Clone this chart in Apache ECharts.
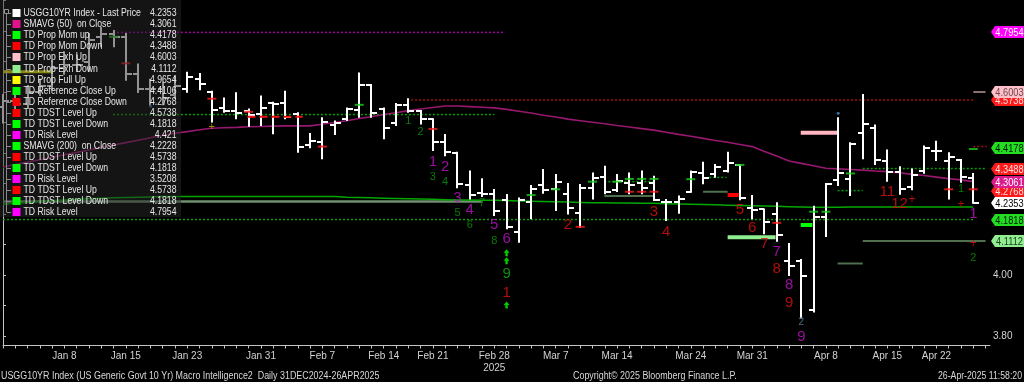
<!DOCTYPE html>
<html><head><meta charset="utf-8">
<script src="https://cdn.jsdelivr.net/npm/echarts@6/dist/echarts.min.js"></script>
<style>html,body{margin:0;padding:0;background:#000;}#c{width:1024px;height:382px;}</style>
</head><body><div id="c"></div>
<script>
// ---------- DATA ----------
const categories = ['Dec 31',
 'Jan 2','Jan 3','Jan 6','Jan 7','Jan 8','Jan 9','Jan 10','Jan 13','Jan 14','Jan 15','Jan 16','Jan 17','Jan 21','Jan 22','Jan 23','Jan 24','Jan 27','Jan 28','Jan 29','Jan 30','Jan 31',
 'Feb 3','Feb 4','Feb 5','Feb 6','Feb 7','Feb 10','Feb 11','Feb 12','Feb 13','Feb 14','Feb 18','Feb 19','Feb 20','Feb 21','Feb 24','Feb 25','Feb 26','Feb 27','Feb 28',
 'Mar 3','Mar 4','Mar 5','Mar 6','Mar 7','Mar 10','Mar 11','Mar 12','Mar 13','Mar 14','Mar 17','Mar 18','Mar 19','Mar 20','Mar 21','Mar 24','Mar 25','Mar 26','Mar 27','Mar 28','Mar 31',
 'Apr 1','Apr 2','Apr 3','Apr 4','Apr 7','Apr 8','Apr 9','Apr 10','Apr 11','Apr 14','Apr 15','Apr 16','Apr 17','Apr 21','Apr 22','Apr 23','Apr 24','Apr 25'];
const xTickLabels = ['Jan 8','Jan 15','Jan 23','Jan 31','Feb 7','Feb 14','Feb 21','Feb 28','Mar 7','Mar 14','Mar 24','Mar 31','Apr 8','Apr 15','Apr 22'];
const yearLabelAt = 'Feb 28';
const yearLabel = '2025';
const yTickLabels = [4.00, 3.80];

const openV  = [4.55,4.57,4.56,4.60,4.62,4.68,4.69,4.70,4.78,4.79,4.78,4.66,4.61,4.61,4.59,4.609,4.643,4.599,4.546,4.538,4.538,4.528,4.565,4.565,4.528,4.426,4.437,4.492,4.510,4.541,4.623,4.543,4.497,4.557,4.538,4.511,4.437,4.399,4.295,4.270,4.266,4.246,4.142,4.240,4.295,4.281,4.266,4.202,4.284,4.320,4.279,4.301,4.301,4.301,4.240,4.240,4.273,4.335,4.331,4.342,4.361,4.219,4.215,4.200,4.047,4.047,3.885,4.191,4.311,4.315,4.465,4.483,4.374,4.339,4.290,4.341,4.407,4.375,4.377,4.319];
const highV  = [4.59,4.60,4.62,4.64,4.70,4.73,4.72,4.79,4.81,4.80,4.79,4.69,4.64,4.63,4.65,4.663,4.659,4.601,4.579,4.596,4.543,4.585,4.565,4.601,4.530,4.462,4.514,4.503,4.546,4.661,4.623,4.546,4.561,4.576,4.538,4.511,4.459,4.401,4.339,4.314,4.279,4.262,4.251,4.292,4.344,4.328,4.298,4.295,4.333,4.355,4.328,4.333,4.339,4.322,4.246,4.257,4.339,4.368,4.361,4.401,4.361,4.259,4.215,4.235,4.102,4.049,4.224,4.298,4.514,4.432,4.590,4.490,4.408,4.353,4.346,4.421,4.437,4.399,4.377,4.331];
const lowV   = [4.50,4.53,4.55,4.59,4.61,4.66,4.67,4.67,4.75,4.75,4.64,4.60,4.56,4.56,4.58,4.601,4.609,4.503,4.535,4.514,4.489,4.492,4.465,4.514,4.404,4.419,4.383,4.462,4.508,4.519,4.519,4.448,4.492,4.535,4.497,4.410,4.393,4.288,4.251,4.259,4.197,4.153,4.109,4.186,4.270,4.213,4.202,4.158,4.251,4.268,4.275,4.268,4.268,4.246,4.180,4.204,4.273,4.301,4.322,4.339,4.248,4.186,4.137,4.112,4.000,3.861,3.880,4.128,4.295,4.262,4.383,4.364,4.309,4.266,4.281,4.335,4.377,4.251,4.306,4.237];
const closeV = [4.57,4.56,4.60,4.62,4.68,4.69,4.69,4.77,4.79,4.78,4.66,4.61,4.61,4.58,4.62,4.650,4.626,4.541,4.537,4.530,4.525,4.546,4.560,4.518,4.419,4.439,4.500,4.497,4.543,4.623,4.532,4.481,4.557,4.538,4.511,4.437,4.404,4.298,4.262,4.266,4.211,4.158,4.246,4.281,4.279,4.306,4.219,4.284,4.317,4.273,4.309,4.295,4.284,4.246,4.240,4.249,4.339,4.317,4.355,4.366,4.252,4.213,4.175,4.131,4.031,3.998,4.191,4.298,4.335,4.430,4.495,4.377,4.337,4.281,4.329,4.415,4.407,4.386,4.320,4.2353];

const sma50 = [4.354,4.362,4.370,4.378,4.386,4.394,4.402,4.410,4.418,4.426,4.434,4.442,4.450,4.458,4.465,4.470,4.476,4.481,4.483,4.484,4.486,4.487,4.488,4.489,4.489,4.489,4.494,4.500,4.506,4.513,4.519,4.526,4.532,4.539,4.544,4.549,4.554,4.554,4.552,4.550,4.548,4.543,4.537,4.531,4.524,4.518,4.511,4.506,4.501,4.496,4.490,4.485,4.480,4.475,4.468,4.461,4.455,4.448,4.441,4.435,4.428,4.421,4.405,4.390,4.374,4.366,4.358,4.350,4.348,4.346,4.344,4.341,4.339,4.335,4.330,4.326,4.321,4.316,4.312,4.3061];
const sma200 = [4.232,4.235,4.238,4.241,4.244,4.246,4.248,4.250,4.252,4.253,4.254,4.255,4.256,4.257,4.257,4.257,4.257,4.257,4.257,4.257,4.257,4.257,4.257,4.257,4.257,4.257,4.257,4.257,4.255,4.254,4.253,4.252,4.251,4.250,4.249,4.248,4.247,4.246,4.246,4.245,4.245,4.244,4.243,4.242,4.241,4.240,4.239,4.238,4.237,4.237,4.236,4.236,4.235,4.235,4.234,4.233,4.232,4.231,4.230,4.229,4.228,4.227,4.226,4.225,4.224,4.223,4.222,4.222,4.222,4.223,4.223,4.223,4.223,4.223,4.223,4.223,4.223,4.223,4.223,4.2228];

// level segments: [fromIndex, toIndex, value]
const tdstDownDotted = [[8.95,40.0,4.526],[0,79.0,4.1818],[48.96,53.0,4.306],[57.5,58.9,4.320],[67.95,70.0,4.2768],[70.0,80.0,4.349]];
const tdstUpDotted   = [[32.9,79.0,4.5738],[79.0,80.1,4.421]];
const riskDotted     = [[8.95,40.84,4.7954]];
const exhDownWide    = [[0,38.98,4.241]];
const exhDownDim     = [[48.96,53.0,4.259],[57.0,59.0,4.273],[67.95,70.0,4.038],[70.0,80.0,4.1112]];
const exhUpDim       = [[79.0,80.0,4.6003]];
const propExhDown    = [[59.0,62.9,4.124]];
const propExhUp      = [[64.95,67.95,4.4666]];
const propMomDown    = [[59.0,59.9,4.262]];
const propMomUp      = [[64.95,65.9,4.164]];
const propFullUp     = [[0,3.9,4.6666]];
const refDownDashed  = [[19.9,24.4,4.519]];

const refCloseDown = [[10,4.694],[17,4.578],[20,4.535],[26,4.421],[35,4.479],[47,4.158],[51,4.273],[52,4.273],[53,4.273],[63,4.171],[77,4.281],[79,4.281]];
const refCloseUp   = [[9,4.781],[29,4.558],[43,4.262],[45,4.281],[48,4.306],[50,4.306],[51,4.315],[52,4.315],[53,4.315],[56,4.314],[60,4.361],[66,4.2075],[67,4.2075],[69,4.333],[79,4.413]];

const greenCounts   = [[33,4.505,'1'],[34,4.470,'2'],[35,4.322,'3'],[36,4.306,'4'],[37,4.203,'5'],[38,4.164,'6'],[39,4.237,'7'],[40,4.111,'8'],[78,4.281,'1'],[79,4.055,'2']];
const greenBigCounts= [[41,4.003,'9']];
const magentaCounts = [[35,4.3715,'1'],[36,4.355,'2'],[37,4.2515,'3'],[38,4.213,'4'],[40,4.164,'5'],[41,4.117,'6'],[63,4.076,'7'],[64,3.967,'8'],[65,3.797,'9'],[79,4.202,'1']];
const redCounts     = [[41,3.942,'1'],[46,4.164,'2'],[53,4.2075,'3'],[54,4.142,'4'],[60,4.215,'5'],[61,4.153,'6'],[62,4.102,'7'],[63,4.019,'8'],[64,3.909,'9'],[72,4.273,'11'],[73,4.232,'12']];
const redPlus       = [[74,4.248,'+'],[78,4.232,'+'],[79,4.104,'+']];
const yellowPlus    = [[17,4.484,'+']];
const blueCounts    = [[65,3.844,'2']];
const greenArrows   = [[41,4.073],[41,4.047],[41,3.902]];
const blueDots      = [[68,4.530],[12,4.554]];

const legendNames  = ['USGG10YR Index - Last Price','SMAVG (50)  on Close','TD Prop Mom up','TD Prop Mom Down','TD Prop Exh Up','TD Prop Exh Down','TD Prop Full Up','TD Reference Close Up','TD Reference Close Down','TD TDST Level Up','TD TDST Level Down','TD Risk Level','SMAVG (200)  on Close','TD TDST Level Up','TD TDST Level Down','TD Risk Level','TD TDST Level Up','TD TDST Level Down','TD Risk Level'];
const legendValues = ['4.2353','4.3061','4.4178','4.3488','4.6003','4.1112','4.9654','4.4106','4.2768','4.5738','4.1818','4.421','4.2228','4.5738','4.1818','3.5208','4.5738','4.1818','4.7954'];

const tagValues = [4.5738,4.6003,4.7954,4.4178,4.3488,4.2768,4.3061,4.1818,4.2353,4.1112];

const footerLeft = 'USGG10YR Index (US Generic Govt 10 Yr) Macro Intelligence2  Daily 31DEC2024-26APR2025';
const footerMid = 'Copyright\u00a9 2025 Bloomberg Finance L.P.';
const footerRight = '26-Apr-2025 11:58:20';

// ---------- STYLE ----------
const FONT = "'Liberation Sans',Arial,sans-serif";
const legendColors = ['#ffffff','#e0138c','#00ff00','#ff0000','#ffc0cb','#90ee90','#ffff00','#00ff00','#ff0000','#ff0000','#00ff00','#ff00ff','#00ff00','#ff0000','#00ff00','#ff00ff','#ff0000','#00ff00','#ff00ff'];
const tagFill = ['#ff1a1a','#ffc0cb','#ff00ff','#22dd22','#ff1a1a','#ff1a1a','#dc1a8c','#22dd22','#ffffff','#90ee90'];
const tagInk  = ['#ffe0e0','#6a4a4a','#ffffff','#001a00','#ffe0e0','#ffe0e0','#ffffff','#001a00','#000000','#1a3a1a'];
const X_MAX = 80.36, Y_MIN = 3.76885, Y_MAX = 4.90164;

const chart = echarts.init(document.getElementById('c'), null, {renderer:'canvas'});

function segSeries(segs, color, width, type, z){
  return segs.map(s => ({
    type:'line', silent:true, showSymbol:false, symbol:'none', z:z||2,
    data:[[s[0], s[2]],[s[1], s[2]]],
    lineStyle:{color:color, width:width, type:type||'solid', cap:'butt'}
  }));
}
function textSeries(arr, color, size, z){
  return {
    type:'scatter', silent:true, z:z||8, symbol:'circle', symbolSize:1,
    itemStyle:{color:'rgba(0,0,0,0)'},
    data: arr,
    label:{show:true, position:'inside', formatter:p=>p.value[2], color:color, fontSize:size, fontFamily:FONT}
  };
}
function dashSeries(arr, color, z){
  return {type:'scatter', silent:true, z:z||6, symbol:'rect', symbolSize:[9,2], itemStyle:{color:color}, data:arr};
}

const ohlcData = categories.map((d,i)=>[i, openV[i], highV[i], lowV[i], closeV[i]]);

const series = [].concat(
  segSeries(exhDownWide, '#6f8f6f', 2.5),
  segSeries(exhDownDim, '#4f6f4f', 2),
  segSeries(exhUpDim, '#8a6f6f', 2),
  segSeries(tdstDownDotted, '#00a000', 1.5, [2,2]),
  segSeries(tdstUpDotted, '#a01010', 1.5, [2,2]),
  segSeries(riskDotted, '#a000a0', 1.5, [2,2]),
  segSeries(refDownDashed, '#ee1111', 2, [8,4], 6),
  [
    {type:'line', silent:true, showSymbol:false, z:3, data:sma200.map((v,i)=>[i,v]), lineStyle:{color:'#00a800', width:1.5}},
    {type:'line', silent:true, showSymbol:false, z:3, data:sma50.map((v,i)=>[i,v]), lineStyle:{color:'#97186f', width:1.6}}
  ],
  segSeries(propExhDown, '#90ee90', 4, 'solid', 4),
  segSeries(propExhUp, '#ffb6c1', 4, 'solid', 4),
  segSeries(propMomDown, '#ff0000', 4, 'solid', 4),
  segSeries(propMomUp, '#00ff00', 4, 'solid', 4),
  segSeries(propFullUp, '#e8e800', 3, 'solid', 4),
  [{
    type:'custom', z:5, silent:true, data:ohlcData,
    renderItem:(params, api)=>{
      const x = api.value(0);
      const o = api.coord([x, api.value(1)]);
      const h = api.coord([x, api.value(2)]);
      const l = api.coord([x, api.value(3)]);
      const c = api.coord([x, api.value(4)]);
      const px = Math.round(h[0]);
      const st = {stroke:'#ffffff', lineWidth:2};
      return {type:'group', children:[
        {type:'line', shape:{x1:px, y1:h[1]-1, x2:px, y2:l[1]+1}, style:st},
        {type:'line', shape:{x1:px-5, y1:Math.round(o[1]), x2:px, y2:Math.round(o[1])}, style:st},
        {type:'line', shape:{x1:px, y1:Math.round(c[1]), x2:px+6, y2:Math.round(c[1])}, style:st}
      ]};
    }
  }],
  [
    dashSeries(refCloseDown, '#ff1a1a'),
    dashSeries(refCloseUp, '#19d019'),
    textSeries(greenCounts, '#0a9a0a', 11),
    textSeries(greenBigCounts, '#10b010', 15),
    textSeries(magentaCounts, '#c010c8', 15),
    textSeries(redCounts, '#e01010', 15),
    textSeries(redPlus, '#e01010', 12),
    textSeries(yellowPlus, '#d0a800', 11),
    textSeries(blueCounts, '#5a8aa8', 10),
    {type:'scatter', silent:true, z:7, symbol:'path://M5,0 L10,5 L7,5 L7,10 L3,10 L3,5 L0,5 Z', symbolSize:[6,7], itemStyle:{color:'#00ff00'}, data:greenArrows},
    {type:'scatter', silent:true, z:7, symbol:'circle', symbolSize:3, itemStyle:{color:'#4a8ac0'}, data:blueDots},
    {
      type:'custom', z:20, silent:true, clip:false,
      data: tagValues.map(v=>[X_MAX, v]),
      renderItem:(params, api)=>{
        const v = api.value(1);
        const p = api.coord([api.value(0), v]);
        const x = p[0], y = Math.round(p[1]);
        const k = params.dataIndex;
        return {type:'group', children:[
          {type:'polygon', shape:{points:[[x+1,y],[x+5,y-6],[x+34,y-6],[x+34,y+6],[x+5,y+6]]}, style:{fill:tagFill[k]}},
          {type:'text', x:x+19.5, y:y+0.5, scaleX:0.84, style:{x:0, y:0, text:v.toFixed(4), fill:tagInk[k], font:"11px "+FONT, align:'center', verticalAlign:'middle'}}
        ]};
      }
    }
  ]
);

// legend graphics
const LSC = 0.79;
const legendEls = [
  {type:'rect', shape:{x:0, y:0, width:181, height:217}, style:{fill:'rgba(40,40,40,0.5)'}, z:100},
  {type:'line', shape:{x1:6.5, y1:13, x2:6.5, y2:212}, style:{stroke:'#8a8a8a', lineWidth:1}, z:101},
  {type:'rect', shape:{x:4.5, y:9.5, width:4, height:4}, style:{fill:'none', stroke:'#9a9a9a', lineWidth:1}, z:101}
];
legendNames.forEach((name, k)=>{
  const cy = 13.3 + k*11.04;
  legendEls.push({type:'line', shape:{x1:6.5, y1:Math.round(cy)+0.5, x2:11, y2:Math.round(cy)+0.5}, style:{stroke:'#8a8a8a', lineWidth:1}, z:101});
  legendEls.push({type:'rect', shape:{x:12.5, y:Math.round(cy)-4, width:8, height:8}, style:{fill:legendColors[k]}, z:101});
  legendEls.push({type:'text', x:23.5, y:cy, scaleX:LSC, style:{x:0, y:0, text:name, fill:'#e6e6e6', font:'11px '+FONT, verticalAlign:'middle', align:'left'}, z:102});
  legendEls.push({type:'text', x:176.5, y:cy, scaleX:LSC, style:{x:0, y:0, text:legendValues[k], fill:'#e6e6e6', font:'11px '+FONT, verticalAlign:'middle', align:'right'}, z:102});
});
const FSC = 0.89;
legendEls.push({type:'text', x:1, y:376.5, scaleX:FSC, style:{x:0, y:0, text:footerLeft, fill:'#d8d8d8', font:'10px '+FONT, verticalAlign:'middle', align:'left'}, z:102});
legendEls.push({type:'text', x:573, y:376.5, scaleX:FSC, style:{x:0, y:0, text:footerMid, fill:'#d8d8d8', font:'10px '+FONT, verticalAlign:'middle', align:'left'}, z:102});
legendEls.push({type:'text', x:1022, y:376.5, scaleX:0.87, style:{x:0, y:0, text:footerRight, fill:'#d8d8d8', font:'10px '+FONT, verticalAlign:'middle', align:'right'}, z:102});

chart.setOption({
  backgroundColor:'#000000',
  animation:false,
  grid:{left:0, right:34, top:0, bottom:36.5, containLabel:false},
  xAxis:{
    type:'value', min:0, max:X_MAX, interval:1,
    axisLine:{show:true, lineStyle:{color:'#c4c4c4', width:1}},
    axisTick:{show:true, length:3, lineStyle:{color:'#c4c4c4'}},
    splitLine:{show:false},
    axisLabel:{
      color:'#d2d2d2', fontSize:10, fontFamily:FONT, margin:5, lineHeight:12, showMaxLabel:false,
      formatter:(v)=>{
        const d = categories[v];
        if (d && xTickLabels.indexOf(d) >= 0) return d === yearLabelAt ? d + '\n' + yearLabel : d;
        return '';
      }
    }
  },
  yAxis:{
    type:'value', position:'right', min:Y_MIN, max:Y_MAX, splitNumber:11,
    axisLine:{show:true, lineStyle:{color:'#c4c4c4', width:1}},
    axisTick:{show:true, length:3, lineStyle:{color:'#c4c4c4'}},
    splitLine:{show:false},
    axisLabel:{
      color:'#d2d2d2', fontSize:10, fontFamily:FONT, margin:3, showMinLabel:false, showMaxLabel:false,
      formatter:(v)=>{
        for (const t of yTickLabels) if (Math.abs(v - t) < 1e-6) return t.toFixed(2);
        return '';
      }
    }
  },
  graphic:{elements:legendEls},
  series:series
});
</script></body></html>
